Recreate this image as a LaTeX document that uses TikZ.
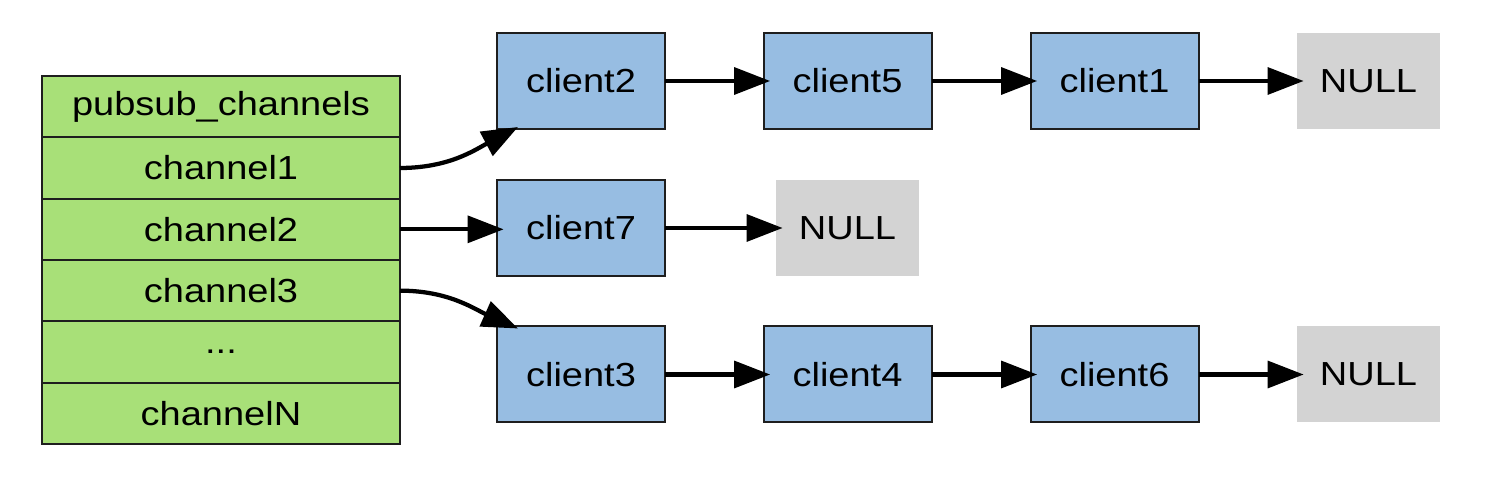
\documentclass[tikz,border=0pt]{standalone}
\usepackage{fontspec}
\setmainfont[FakeStretch=1.14]{Liberation Sans}
\usetikzlibrary{arrows.meta}
\definecolor{tgreen}{RGB}{168,224,120}
\definecolor{tblue}{RGB}{151,189,226}
\definecolor{tgray}{RGB}{211,211,211}
\definecolor{bordc}{RGB}{30,30,30}
\begin{document}
\begin{tikzpicture}[x=0.75pt,y=-0.75pt,
  every node/.style={font=\fontsize{25}{29}\selectfont, inner sep=0pt, outer sep=0pt},
  cell/.style={draw=bordc, line width=1.5pt, fill=tgreen, minimum width=268.5pt, minimum height=46pt},
  client/.style={draw=bordc, line width=1.5pt, fill=tblue, minimum width=126pt, minimum height=72pt},
  nullbox/.style={fill=tgray, minimum width=107.25pt, minimum height=72pt},
  arr/.style={line width=3.2pt, -{Triangle[length=27pt,width=20pt]}, shorten >=-5pt}
]
\useasboundingbox (0,0) rectangle (1504,484);
% table
\node[cell] (hd) at (221,106.67) {pubsub\_channels};
\node[cell] (ch1) at (221,168) {channel1};
\node[cell] (ch2) at (221,229.33) {channel2};
\node[cell] (ch3) at (221,290.67) {channel3};
\node[cell] (chd) at (221,352) {...};
\node[cell] (chn) at (221,413.33) {channelN};
% row 1
\node[client] (c2) at (581,81) {client2};
\node[client] (c5) at (847.5,81) {client5};
\node[client] (c1) at (1114.5,81) {client1};
\node[nullbox] (n1) at (1368.5,81) {NULL};
% row 2
\node[client] (c7) at (581,228) {client7};
\node[nullbox] (n2) at (847.5,228) {NULL};
% row 3
\node[client] (c3) at (581,374.5) {client3};
\node[client] (c4) at (847.5,374.5) {client4};
\node[client] (c6) at (1114.5,374.5) {client6};
\node[nullbox] (n3) at (1368.5,374.5) {NULL};
% connectors
\draw[arr, shorten >=0pt] (ch1.east) to[out=0,in=208] ([xshift=15.75pt,yshift=1.5pt]c2.south west);
\draw[arr] (ch2.east) -- (c7.west |- ch2.east);
\draw[arr, shorten >=0pt] (ch3.east) to[out=0,in=156] ([xshift=15.75pt,yshift=-1.5pt]c3.north west);
\draw[arr] (c2.east) -- (c5.west);
\draw[arr] (c5.east) -- (c1.west);
\draw[arr] (c1.east) -- (n1.west);
\draw[arr] (c7.east) -- (n2.west);
\draw[arr] (c3.east) -- (c4.west);
\draw[arr] (c4.east) -- (c6.west);
\draw[arr] (c6.east) -- (n3.west);
\end{tikzpicture}
\end{document}
